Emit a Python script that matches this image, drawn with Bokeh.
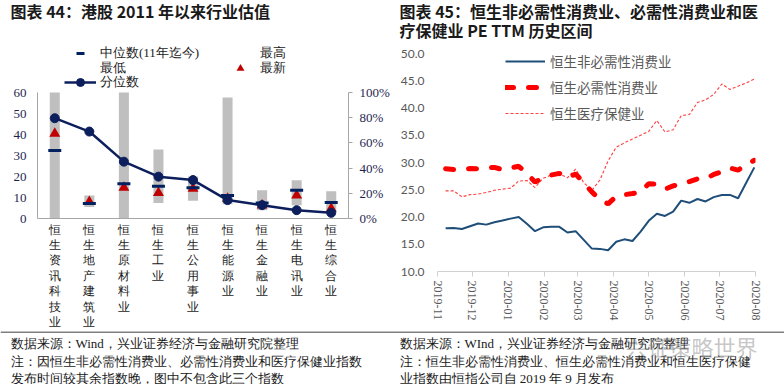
import math
import pandas as pd
from bokeh.plotting import figure
from bokeh.models import (Range1d, LinearAxis, FixedTicker, NumeralTickFormatter, Legend,
                          LegendItem, Label, Span, ColumnDataSource)
from bokeh.layouts import row, column
from bokeh.embed import file_html
from bokeh.resources import INLINE

# ---------------- Left chart data (图表44) ----------------
industries = ['恒生资讯科技业', '恒生地产建筑业', '恒生原材料业', '恒生工业', '恒生公用事业',
              '恒生能源业', '恒生金融业', '恒生电讯业', '恒生综合业']
pe_high = [60, 11.0, 60, 32.8, 20.0, 57.6, 13.4, 18.2, 13.0]
pe_low = [0, 5.5, 0, 7.4, 8.4, 6.8, 3.9, 6.3, 3.2]
pe_median = [32.4, 7.1, 16.6, 15.3, 14.7, 11.0, 7.4, 13.4, 7.6]
pe_latest = [40.4, 7.9, 14.7, 12.2, 14.2, 9.5, 6.3, 11.0, 4.7]
pe_pct = [0.796, 0.69, 0.451, 0.332, 0.305, 0.146, 0.106, 0.066, 0.045]
left_ticks = [0, 10, 20, 30, 40, 50, 60]
pct_ticks = [0, 0.2, 0.4, 0.6, 0.8, 1.0]

# ---------------- Right chart data (图表45) ----------------
week_dates = ['2019-11-08', '2019-11-15', '2019-11-22', '2019-11-29', '2019-12-06', '2019-12-13',
              '2019-12-20', '2019-12-27', '2020-01-03', '2020-01-10', '2020-01-17', '2020-01-24',
              '2020-01-31', '2020-02-07', '2020-02-14', '2020-02-21', '2020-02-28', '2020-03-06',
              '2020-03-13', '2020-03-20', '2020-03-27', '2020-04-03', '2020-04-10', '2020-04-17',
              '2020-04-24', '2020-05-01', '2020-05-08', '2020-05-15', '2020-05-22', '2020-05-29',
              '2020-06-05', '2020-06-12', '2020-06-19', '2020-06-26', '2020-07-03', '2020-07-10',
              '2020-07-17', '2020-07-24', '2020-07-31']
cons_disc = [17.95, 18.0, 17.8, 18.3, 18.8, 18.6, 19.05, 19.35, 19.7, 20.0,
             18.75, 17.4, 18.1, 18.2, 18.2, 17.15, 17.4, 15.8, 14.2, 14.15,
             13.9, 15.45, 15.9, 15.6, 17.3, 19.3, 20.6, 20.2, 21.0, 23.0,
             22.6, 23.3, 22.85, 23.65, 24.05, 24.05, 23.45, 26.3, 29.1]
staples = [28.85, 28.7, 28.75, 28.9, 28.85, 29.0, 29.1, 28.7, 29.0, 29.3,
           28.0, 26.4, 27.2, 27.7, 28.0, 27.2, 27.9, 26.3, 24.6, 23.2,
           22.4, 23.8, 24.1, 24.3, 24.6, 26.1, 26.0, 25.1, 25.7, 26.1,
           26.5, 27.0, 27.0, 27.8, 28.3, 29.0, 28.6, 29.6, 30.4]
health = [24.8, 24.8, 23.7, 24.1, 24.2, 24.5, 24.9, 25.1, 25.3, 26.6,
          26.7, 25.4, 27.1, 27.7, 27.9, 27.2, 28.8, 26.3, 24.9, 26.8,
          30.3, 32.8, 33.6, 34.3, 35.0, 35.7, 37.7, 35.6, 36.0, 38.6,
          38.8, 41.0, 41.5, 42.5, 44.4, 43.4, 44.0, 44.6, 45.3]
series_names = ['恒生非必需性消费业', '恒生必需性消费业', '恒生医疗保健业']
month_ticks = ['2019-11-01', '2019-12-01', '2020-01-01', '2020-02-01', '2020-03-01',
               '2020-04-01', '2020-05-01', '2020-06-01', '2020-07-01', '2020-08-01']
right_y_ticks = [10, 15, 20, 25, 30, 35, 40, 45, 50]

SERIF = "Liberation Serif"
CJK = "Noto Sans CJK SC"
PAGE_W = 784
HEAD_H, MAIN_H, FOOT_H = 40, 291, 53

# ======================= HEADER (titles) =======================
head = figure(width=PAGE_W, height=HEAD_H, x_range=Range1d(0, PAGE_W), y_range=Range1d(HEAD_H, 0),
              x_axis_location=None, y_axis_location=None, output_backend="svg",
              toolbar_location=None, title=None, min_border=0, frame_align=False)
head.grid.visible = False
head.outline_line_color = None
for txt, x0, y0 in [("图表 44：港股 2011 年以来行业估值", 10, 10.5),
                    ("图表 45：恒生非必需性消费业、必需性消费业和医", 399, 10.5),
                    ("疗保健业 PE TTM 历史区间", 399, 29)]:
    head.add_layout(Label(x=x0, y=y0, text=txt, text_font=CJK, text_font_style="bold",
                          text_font_size="16px", text_color="#1a1a1a",
                          text_baseline="middle", text_align="left"))

# ======================= LEFT FIGURE =======================
L_W = PAGE_W // 2
L_FL, L_FR, L_FT, L_FB = 37, 349, 0, 178     # frame edges (figure pixels)
L_Y60 = 52                                    # pixel row of the top tick
ppu = (L_FB - L_Y60) / (left_ticks[-1] - left_ticks[0])
y_top = left_ticks[-1] + (L_Y60 - L_FT) / ppu
pct_top = pct_ticks[-1] + (L_Y60 - L_FT) / (L_FB - L_Y60) * (pct_ticks[-1] - pct_ticks[0])

pos = list(range(len(industries)))
lsrc = ColumnDataSource(dict(x=pos, high=pe_high, low=pe_low, median=pe_median,
                             latest=pe_latest, pct=pe_pct))

left = figure(width=L_W, height=MAIN_H, x_range=Range1d(-0.5, len(industries) - 0.5),
              y_range=Range1d(left_ticks[0], y_top),
              output_backend="svg", toolbar_location=None, title=None, frame_align=False,
              min_border_left=L_FL, min_border_right=L_W - L_FR,
              min_border_top=L_FT, min_border_bottom=MAIN_H - L_FB)
left.extra_y_ranges = {"pct": Range1d(pct_ticks[0], pct_top)}
left.grid.visible = False
left.outline_line_color = None

left.vbar(x='x', bottom='low', top='high', width=0.29, source=lsrc,
          fill_color="#BFBFBF", line_color=None)
r_hi = left.scatter('x', 'high', source=lsrc, size=1, alpha=0)
r_lo = left.scatter('x', 'low', source=lsrc, size=1, alpha=0)
r_tri = left.scatter('x', 'latest', source=lsrc, marker='triangle', size=11,
                     fill_color="#C00000", line_color=None)
r_med = left.scatter('x', 'median', source=lsrc, marker='dash', size=13,
                     line_color="#002060", line_width=3)
r_pl = left.line('x', 'pct', source=lsrc, y_range_name="pct", line_color="#0C1F5C", line_width=2.5)
r_pp = left.scatter('x', 'pct', source=lsrc, y_range_name="pct", marker='circle', size=9,
                    fill_color="#0C1F5C", line_color="#0C1F5C")

yl = left.yaxis[0]
yl.ticker = FixedTicker(ticks=left_ticks)
yl.bounds = (left_ticks[0], left_ticks[-1])
yl.major_tick_out = 0
yl.major_tick_in = 0
yl.minor_tick_out = 0
yl.minor_tick_in = 0
yl.axis_line_color = "#A6A6A6"
yl.major_label_text_font = SERIF
yl.major_label_text_font_size = "13px"
yl.major_label_text_color = "#1F1F4F"
yl.major_label_standoff = 11

yr = LinearAxis(y_range_name="pct", ticker=FixedTicker(ticks=pct_ticks),
                formatter=NumeralTickFormatter(format="0%"),
                bounds=(pct_ticks[0], pct_ticks[-1]))
yr.major_tick_out = 4
yr.major_tick_in = 0
yr.minor_tick_out = 0
yr.minor_tick_in = 0
yr.axis_line_color = "#A6A6A6"
yr.major_tick_line_color = "#A6A6A6"
yr.major_label_text_font = SERIF
yr.major_label_text_font_size = "13px"
yr.major_label_text_color = "#1F1F4F"
yr.major_label_standoff = 7
left.add_layout(yr, "right")

xl = left.xaxis[0]
xl.ticker = FixedTicker(ticks=pos)
xl.major_label_overrides = {i: "\n".join(name) for i, name in zip(pos, industries)}
xl.major_tick_out = 0
xl.major_tick_in = 0
xl.minor_tick_out = 0
xl.minor_tick_in = 0
xl.axis_line_color = "#A6A6A6"
xl.major_label_text_font = SERIF
xl.major_label_text_font_size = "12px"
xl.major_label_text_line_height = 1.1
xl.major_label_text_color = "#1a1a1a"
xl.major_label_standoff = 4

# legend: three single-row legends so that rows keep the reference pitch
leg_rows = [[("中位数(11年迄今)", [r_med]), ("最高", [r_hi])],
            [("最低", [r_lo]), ("最新", [r_tri])],
            [("分位数", [r_pl, r_pp])]]
for k, items in enumerate(leg_rows):
    bottom_px = 23 + 14.5 * k          # legend box bottom, figure pixels
    lg = Legend(items=[LegendItem(label=t, renderers=r) for t, r in items],
                location=(64 - L_FL, L_FB - bottom_px), orientation="horizontal",
                glyph_width=32, glyph_height=20, label_height=20, label_width=124,
                label_standoff=4, spacing=0, padding=0, margin=0,
                border_line_color=None, background_fill_alpha=0,
                label_text_font=SERIF, label_text_font_size="13px",
                label_text_color="#222222")
    left.add_layout(lg, "center")

# ======================= RIGHT FIGURE =======================
R_W = PAGE_W - L_W
R_FL, R_FR, R_FT, R_FB = 45, 363, 0, 231
R_Y50 = 13
rppu = (R_FB - R_Y50) / (right_y_ticks[-1] - right_y_ticks[0])
ry_top = right_y_ticks[-1] + (R_Y50 - R_FT) / rppu

rdates = pd.to_datetime(week_dates)
rsrc = ColumnDataSource(dict(date=rdates, cd=cons_disc, st=staples, hc=health))
mt = pd.to_datetime(month_ticks)
mt_ms = [int(t.value // 10**6) for t in mt]

right = figure(width=R_W, height=MAIN_H, x_axis_type="datetime",
               x_range=Range1d(mt[0], mt[-1]),
               y_range=Range1d(right_y_ticks[0], ry_top),
               output_backend="svg", toolbar_location=None, title=None, frame_align=False,
               min_border_left=R_FL, min_border_right=R_W - R_FR,
               min_border_top=R_FT, min_border_bottom=MAIN_H - R_FB)
right.grid.visible = False
right.outline_line_color = None

r3 = right.line('date', 'hc', source=rsrc, line_color="#FF2020", line_width=1.1,
                line_dash="3 2", line_alpha=0.85)
r2 = right.line('date', 'st', source=rsrc, line_color="#FF0000", line_width=5,
                line_dash="8 15", line_cap="round")
r1 = right.line('date', 'cd', source=rsrc, line_color="#1F4E79", line_width=2)

ry = right.yaxis[0]
ry.ticker = FixedTicker(ticks=right_y_ticks)
ry.formatter = NumeralTickFormatter(format="0.0")
ry.axis_line_color = None
ry.major_tick_out = 0
ry.major_tick_in = 0
ry.minor_tick_out = 0
ry.minor_tick_in = 0
ry.major_label_text_font = "Lato"
ry.major_label_text_font_size = "12px"
ry.major_label_text_color = "#595959"
ry.major_label_standoff = 13

rx = right.xaxis[0]
rx.ticker = FixedTicker(ticks=mt_ms)
rx.major_label_overrides = {ms: s[:7] for ms, s in zip(mt_ms, month_ticks)}
rx.major_label_orientation = -math.pi / 2
rx.axis_line_color = "#D0D0D0"
rx.major_tick_line_color = "#D0D0D0"
rx.major_tick_out = 5
rx.major_tick_in = 0
rx.minor_tick_out = 0
rx.minor_tick_in = 0
rx.major_label_text_font = SERIF
rx.major_label_text_font_size = "12px"
rx.major_label_text_color = "#595959"
rx.major_label_standoff = 4

leg_r = Legend(items=[LegendItem(label=series_names[0], renderers=[r1]),
                      LegendItem(label=series_names[1], renderers=[r2]),
                      LegendItem(label=series_names[2], renderers=[r3])],
               location=(505 - 392 - R_FL, R_FB - 86), orientation="vertical",
               glyph_width=40, glyph_height=26, label_height=26, label_standoff=5,
               spacing=0, padding=0, margin=0, border_line_color=None,
               background_fill_alpha=0, label_text_font=CJK,
               label_text_font_size="13.5px", label_text_color="#595959")
right.add_layout(leg_r, "center")

# ======================= FOOTNOTES =======================
foot = figure(width=PAGE_W, height=FOOT_H, x_range=Range1d(0, PAGE_W), y_range=Range1d(FOOT_H, 0),
              x_axis_location=None, y_axis_location=None, output_backend="svg",
              toolbar_location=None, title=None, min_border=0, frame_align=False)
foot.grid.visible = False
foot.outline_line_color = None
foot.add_layout(Span(location=0.5, dimension="width", line_color="black", line_width=1))

notes_left = ["数据来源：Wind，兴业证券经济与金融研究院整理",
              "注：因恒生非必需性消费业、必需性消费业和医疗保健业指数",
              "发布时间较其余指数晚，图中不包含此三个指数"]
notes_right = ["数据来源：WInd，兴业证券经济与金融研究院整理",
               "注：恒生非必需性消费业、恒生必需性消费业和恒生医疗保健",
               "业指数由恒指公司自 2019 年 9 月发布"]
for notes, x0 in [(notes_left, 10), (notes_right, 399)]:
    for txt, fy in zip(notes, [12, 29.5, 46.5]):
        foot.add_layout(Label(x=x0, y=fy, text=txt, text_font=SERIF,
                              text_font_size="13px", text_color="#1a1a1a",
                              text_baseline="middle", text_align="left"))
foot.add_layout(Label(x=625, y=14, text="兴证策略世界", text_font=CJK,
                      text_font_size="22px", text_color="#7F7F7F", text_alpha=0.45,
                      text_baseline="middle", text_align="left"))

page = column(head, row(left, right), foot)
open("out.html", "w").write(file_html(page, INLINE))
